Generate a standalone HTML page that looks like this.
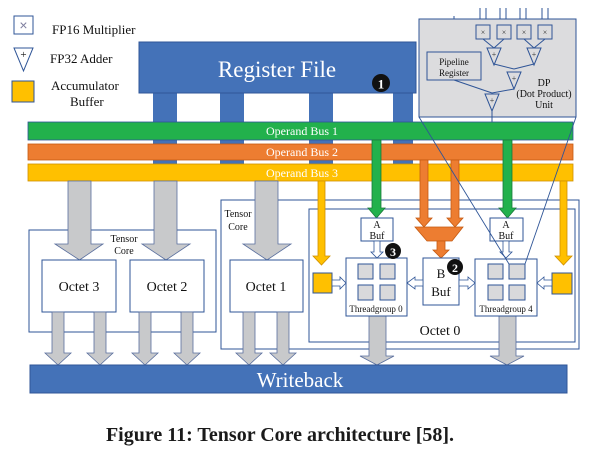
<!DOCTYPE html>
<html><head><meta charset="utf-8"><style>
html,body{margin:0;padding:0;background:#fff;}
svg{display:block;font-family:"Liberation Serif",serif;}
</style></head><body>
<svg width="608" height="456" viewBox="0 0 608 456" xmlns="http://www.w3.org/2000/svg">
<!-- Legend -->
<rect x="14" y="16" width="19" height="18" fill="#fff" stroke="#2f5597" stroke-width="1"/>
<text x="23.5" y="30" font-size="14" fill="#7f7f9f" text-anchor="middle" font-family="Liberation Sans,sans-serif">×</text>
<text x="52" y="34" font-size="13" fill="#111">FP16 Multiplier</text>
<polygon points="14,48 33,48 23.5,71" fill="#fff" stroke="#2f5597"/>
<text x="23.5" y="58" font-size="11" text-anchor="middle" fill="#111">+</text>
<text x="50" y="63" font-size="13" fill="#111">FP32 Adder</text>
<rect x="12" y="81" width="22" height="21" fill="#ffc000" stroke="#2f5597"/>
<text x="51" y="90" font-size="13" fill="#111">Accumulator</text>
<text x="70" y="106" font-size="13" fill="#111">Buffer</text>

<!-- Register file & ports -->
<rect x="153" y="92" width="24" height="72" fill="#4472b8"/>
<rect x="220" y="92" width="24" height="72" fill="#4472b8"/>
<rect x="309" y="92" width="24" height="72" fill="#4472b8"/>
<rect x="393" y="92" width="20" height="72" fill="#4472b8"/>
<rect x="139" y="42" width="277" height="51" fill="#4472b8" stroke="#2f5597"/>
<text x="277" y="77" font-size="23" fill="#fff" text-anchor="middle">Register File</text>
<circle cx="381" cy="83" r="9" fill="#111"/>
<text x="381" y="88.5" font-size="13" font-weight="bold" fill="#fff" text-anchor="middle">1</text>

<!-- DP unit -->
<g stroke="#2f5597" stroke-width="1" fill="none">
<line x1="480" y1="8" x2="480" y2="26"/><line x1="486" y1="8" x2="486" y2="26"/>
<line x1="500" y1="8" x2="500" y2="26"/><line x1="506" y1="8" x2="506" y2="26"/>
<line x1="520" y1="8" x2="520" y2="26"/><line x1="526" y1="8" x2="526" y2="26"/>
<line x1="542" y1="8" x2="542" y2="26"/><line x1="548" y1="8" x2="548" y2="26"/>
<line x1="454" y1="16" x2="454" y2="52"/>
</g>
<rect x="419" y="19" width="157" height="98" fill="#dcdcde" stroke="#2f5597"/>
<g stroke="#2f5597" fill="#dcdcde">
<rect x="476" y="25" width="14" height="14"/><rect x="497" y="25" width="14" height="14"/>
<rect x="517" y="25" width="14" height="14"/><rect x="538" y="25" width="14" height="14"/>
<line x1="483" y1="39" x2="494" y2="48"/><line x1="504" y1="39" x2="494" y2="48"/>
<line x1="524" y1="39" x2="534" y2="48"/><line x1="545" y1="39" x2="534" y2="48"/>
<line x1="494" y1="64" x2="514" y2="69"/><line x1="534" y1="64" x2="514" y2="69"/>
<line x1="514" y1="89" x2="492" y2="93"/><line x1="454" y1="80" x2="492" y2="93"/>
<line x1="492" y1="111" x2="492" y2="122"/>
<polygon points="487,48 501,48 494,65" fill="#dcdcde"/>
<polygon points="527,48 541,48 534,65" fill="#dcdcde"/>
<polygon points="507,72 521,72 514,89" fill="#dcdcde"/>
<polygon points="485,94 499,94 492,111" fill="#dcdcde"/>
<rect x="427" y="52" width="54" height="28" fill="#dcdcde"/>
</g>
<g font-size="8" fill="#333" text-anchor="middle">
<text x="483" y="35">×</text><text x="504" y="35">×</text><text x="524" y="35">×</text><text x="545" y="35">×</text>
<text x="494" y="57">+</text><text x="534" y="57">+</text><text x="514" y="81">+</text><text x="492" y="103">+</text>
</g>
<text x="454" y="65" font-size="9" fill="#111" text-anchor="middle">Pipeline</text>
<text x="454" y="76" font-size="9" fill="#111" text-anchor="middle">Register</text>
<text x="544" y="86" font-size="10" fill="#111" text-anchor="middle">DP</text>
<text x="544" y="97" font-size="10" fill="#111" text-anchor="middle">(Dot Product)</text>
<text x="544" y="108" font-size="10" fill="#111" text-anchor="middle">Unit</text>

<!-- Buses -->
<rect x="28" y="122" width="545" height="18" fill="#22b14c" stroke="#2f5597" stroke-width="0.8"/>
<text x="302" y="135" font-size="12" fill="#fff" text-anchor="middle">Operand Bus 1</text>
<rect x="28" y="144" width="545" height="16" fill="#ed7d31" stroke="#c55a11" stroke-width="0.8"/>
<text x="302" y="156" font-size="12" fill="#fff" text-anchor="middle">Operand Bus 2</text>
<rect x="28" y="164" width="545" height="17" fill="#ffc000" stroke="#d09000" stroke-width="0.8"/>
<text x="302" y="177" font-size="12" fill="#fff" text-anchor="middle">Operand Bus 3</text>

<!-- Tensor core boxes -->
<rect x="29" y="230" width="187" height="102" fill="none" stroke="#2f5597"/>
<text x="124" y="242" font-size="10" fill="#111" text-anchor="middle">Tensor</text>
<text x="124" y="254" font-size="10" fill="#111" text-anchor="middle">Core</text>
<rect x="221" y="200" width="358" height="149" fill="none" stroke="#2f5597"/>
<text x="238" y="217" font-size="10" fill="#111" text-anchor="middle">Tensor</text>
<text x="238" y="230" font-size="10" fill="#111" text-anchor="middle">Core</text>
<rect x="309" y="209" width="266" height="133" fill="none" stroke="#2f5597"/>
<text x="440" y="335" font-size="14" fill="#111" text-anchor="middle">Octet 0</text>

<!-- Big gray arrows -->
<g fill="#c8c9cb" stroke="#5a6f9e" stroke-width="0.8">
<polygon points="68,181 91,181 91,244 103,244 79.5,260 55,244 68,244"/>
<polygon points="154,181 177,181 177,244 190,244 166,260 142,244 154,244"/>
<polygon points="255,181 278,181 278,244 291,244 267,260 243,244 255,244"/>
</g>

<!-- Octets -->
<g fill="#fff" stroke="#2f5597">
<rect x="42" y="260" width="74" height="52"/>
<rect x="130" y="260" width="74" height="52"/>
<rect x="230" y="260" width="73" height="52"/>
</g>
<g font-size="14" fill="#111" text-anchor="middle">
<text x="79" y="291">Octet 3</text><text x="167" y="291">Octet 2</text><text x="266" y="291">Octet 1</text>
</g>

<!-- Small gray arrows -->
<g fill="#c8c9cb" stroke="#5a6f9e" stroke-width="0.8">
<polygon points="52,312 64,312 64,353 71,353 58,365 45,353 52,353"/>
<polygon points="94,312 106,312 106,353 113,353 100,365 87,353 94,353"/>
<polygon points="139,312 151,312 151,353 158,353 145,365 132,353 139,353"/>
<polygon points="181,312 193,312 193,353 200,353 187,365 174,353 181,353"/>
<polygon points="243,312 255,312 255,353 262,353 249,365 236,353 243,353"/>
<polygon points="277,312 289,312 289,353 296,353 283,365 270,353 277,353"/>
<polygon points="369,316 386,316 386,356 394,356 377,365 360,356 369,356"/>
<polygon points="499,316 516,316 516,356 524,356 507,365 490,356 499,356"/>
</g>

<!-- Writeback -->
<rect x="30" y="365" width="537" height="28" fill="#4472b8" stroke="#2f5597"/>
<text x="300" y="387" font-size="21" fill="#fff" text-anchor="middle">Writeback</text>

<!-- Colored arrows -->
<g stroke-width="0.8">
<polygon points="372,140 381,140 381,208 385,208 376.5,218 368,208 372,208" fill="#22b14c" stroke="#1a7a3a"/>
<polygon points="503,140 512,140 512,208 516,208 507.5,218 499,208 503,208" fill="#22b14c" stroke="#1a7a3a"/>
<polygon points="420,160 428,160 428,218 432,218 424,227 416,218 420,218" fill="#ed7d31" stroke="#c55a11"/>
<polygon points="451,160 459,160 459,218 463,218 455,227 447,218 451,218" fill="#ed7d31" stroke="#c55a11"/>
<polygon points="415,227 463,227 452,241 427,241" fill="#ed7d31" stroke="#c55a11"/>
<polygon points="437,241 445,241 445,250 449,250 441,258 433,250 437,250" fill="#ed7d31" stroke="#c55a11"/>
<polygon points="318,181 325,181 325,256 330,256 321.5,265 313,256 318,256" fill="#ffc000" stroke="#d09000"/>
<polygon points="560,181 567,181 567,256 572,256 563.5,265 555,256 560,256" fill="#ffc000" stroke="#d09000"/>
</g>

<!-- Buffers & threadgroups -->
<g fill="#fff" stroke="#2f5597">
<rect x="361" y="218" width="32" height="23"/>
<rect x="490" y="218" width="33" height="23"/>
<rect x="423" y="258" width="36" height="47"/>
<rect x="346" y="258" width="61" height="58"/>
<rect x="475" y="259" width="62" height="57"/>
</g>
<g fill="#ffc000" stroke="#2f5597">
<rect x="313" y="273" width="19" height="20"/>
<rect x="552" y="273" width="20" height="21"/>
</g>
<g fill="#d9d9db" stroke="#2f5597">
<rect x="358" y="264" width="15" height="15"/><rect x="380" y="264" width="15" height="15"/>
<rect x="358" y="285" width="15" height="15"/><rect x="380" y="285" width="15" height="15"/>
<rect x="488" y="264" width="15" height="15"/><rect x="509" y="264" width="16" height="15"/>
<rect x="488" y="285" width="15" height="15"/><rect x="509" y="285" width="16" height="15"/>
</g>
<g font-size="10" fill="#111" text-anchor="middle">
<text x="377" y="228">A</text><text x="377" y="239">Buf</text>
<text x="506" y="228">A</text><text x="506" y="239">Buf</text>
<text x="376" y="312" font-size="9">Threadgroup 0</text>
<text x="506" y="312" font-size="9">Threadgroup 4</text>
</g>
<text x="441" y="278" font-size="13" fill="#111" text-anchor="middle">B</text>
<text x="441" y="296" font-size="13" fill="#111" text-anchor="middle">Buf</text>

<!-- Hollow arrows -->
<g fill="#fff" stroke="#2f5597" stroke-width="0.8">
<polygon points="374,241 380,241 380,252 383,252 377,258 371,252 374,252"/>
<polygon points="503,241 509,241 509,252 512,252 506,258 500,252 503,252"/>
<polygon points="332,280 340,280 340,277 346,283 340,289 340,286 332,286"/>
<polygon points="459,280 468,280 468,277 475,283 468,289 468,286 459,286"/>
<polygon points="423,280 415,280 415,277 407,283 415,289 415,286 423,286"/>
<polygon points="552,280 544,280 544,277 537,283 544,289 544,286 552,286"/>
</g>

<!-- DP lines -->
<g stroke="#2f5597" stroke-width="0.9">
<line x1="419" y1="117" x2="509" y2="264"/>
<line x1="576" y1="117" x2="525" y2="264"/>
</g>

<!-- Numbers -->
<circle cx="393" cy="251" r="8" fill="#111"/>
<text x="393" y="256" font-size="12" font-weight="bold" fill="#fff" text-anchor="middle">3</text>
<circle cx="455" cy="267" r="8" fill="#111"/>
<text x="455" y="272" font-size="12" font-weight="bold" fill="#fff" text-anchor="middle">2</text>

<!-- Caption -->
<text x="280" y="441" font-size="20" font-weight="bold" fill="#1a1a1a" text-anchor="middle">Figure 11: Tensor Core architecture [58].</text>
</svg>
</body></html>
